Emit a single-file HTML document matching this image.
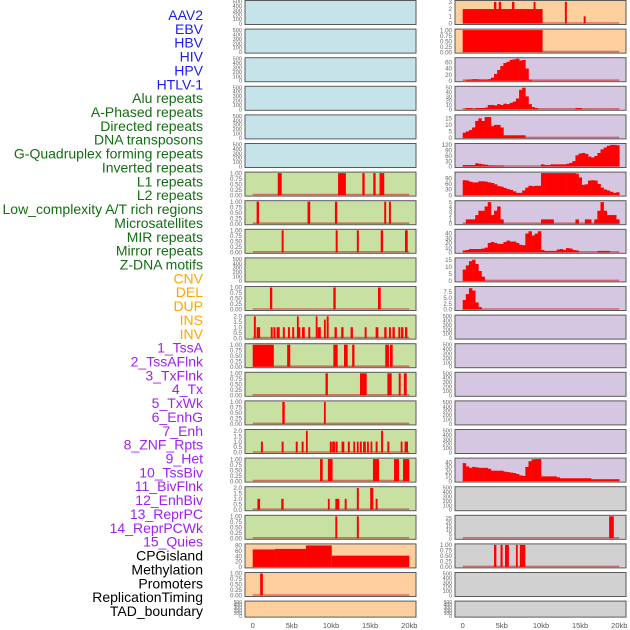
<!DOCTYPE html>
<html><head><meta charset="utf-8">
<style>
html,body{margin:0;padding:0;background:#fff;}
svg{display:block;font-family:"Liberation Sans",sans-serif;}
</style></head>
<body>
<svg id="chart" width="630" height="630" viewBox="0 0 630 630"></svg>
<script>
// ---------- data ----------
const trackLabels = ["AAV2","EBV","HBV","HIV","HPV","HTLV-1","Alu repeats","A-Phased repeats","Directed repeats","DNA transposons","G-Quadruplex forming repeats","Inverted repeats","L1 repeats","L2 repeats","Low_complexity A/T rich regions","Microsatellites","MIR repeats","Mirror repeats","Z-DNA motifs","CNV","DEL","DUP","INS","INV","1_TssA","2_TssAFlnk","3_TxFlnk","4_Tx","5_TxWk","6_EnhG","7_Enh","8_ZNF_Rpts","9_Het","10_TssBiv","11_BivFlnk","12_EnhBiv","13_ReprPC","14_ReprPCWk","15_Quies","CPGisland","Methylation","Promoters","ReplicationTiming","TAD_boundary"];
const labelColors = ["#1c1cf0","#1c1cf0","#1c1cf0","#1c1cf0","#1c1cf0","#1c1cf0","#126e12","#126e12","#126e12","#126e12","#126e12","#126e12","#126e12","#126e12","#126e12","#126e12","#126e12","#126e12","#126e12","#ffa500","#ffa500","#ffa500","#ffa500","#ffa500","#a020f0","#a020f0","#a020f0","#a020f0","#a020f0","#a020f0","#a020f0","#a020f0","#a020f0","#a020f0","#a020f0","#a020f0","#a020f0","#a020f0","#a020f0","#000","#000","#000","#000","#000"];
const xTickValues = [0,5,10,15,20];
const xTickLabels = ["0","5kb","10kb","15kb","20kb"];

// interval tracks: [startKb, endKb, value]
const aluIntervals = [[3.2,3.7,1],[10.9,11.9,1],[14.0,14.3,1],[15.4,15.7,1],[16.2,16.8,1]];
const aPhasedIntervals = [[0.5,0.8,1],[7.0,7.35,1],[10.5,10.8,1],[16.8,17.05,1],[17.4,17.65,1]];
const directedIntervals = [[3.7,3.95,1],[10.6,10.85,1],[13.3,13.55,1],[16.35,16.65,1],[19.45,19.8,1]];
const g4Intervals = [[2.2,2.5,1],[10.3,10.6,1],[16.0,16.35,1]];
const invertedIntervals = [[0.15,0.4,2],[0.5,0.95,1],[2.3,2.55,1],[2.65,2.9,1],[3.05,3.45,1],[3.85,4.1,1],[4.5,4.75,1],[5.05,5.3,1],[5.65,5.85,2],[5.85,6.05,1],[6.3,6.65,1],[7.1,7.35,1],[8.05,8.25,2],[8.3,8.7,1],[9.1,9.3,1.7],[9.45,9.7,2],[10.45,10.75,1],[11.3,11.6,1],[12.5,12.8,1],[14.3,14.55,1],[15.7,16.05,1],[16.8,17.1,1],[17.4,17.65,1],[17.85,18.15,1],[18.6,18.85,1],[18.95,19.25,1],[19.45,19.75,1]];
const l1Intervals = [[0,2.7,1],[4.4,4.8,1],[10.3,10.85,1],[11.66,12.13,1],[12.7,13.0,1],[16.93,17.4,1],[17.53,17.88,1]];
const l2Intervals = [[9.3,9.6,1],[13.7,14.56,1],[17.2,17.75,1],[18.65,18.9,1],[19.3,19.67,1]];
const lowComplexIntervals = [[3.78,4.09,1],[9.1,9.3,1]];
const microsatIntervals = [[1.05,1.3,1],[3.7,3.95,1],[5.5,5.75,1],[6.25,6.5,1],[6.8,7.0,2],[9.85,10.1,1],[10.15,10.35,1],[10.3,10.5,1],[10.6,10.85,1],[11.35,11.7,1],[12.15,12.4,1],[12.85,13.05,1],[13.3,13.5,1],[13.7,13.9,1],[14.1,14.45,1],[14.6,14.8,1],[15.05,15.25,1],[15.7,15.95,1],[16.4,16.65,2],[17.2,17.45,1],[18.9,19.1,1],[19.4,19.65,1],[19.6,19.8,1]];
const mirIntervals = [[8.6,8.94,1],[9.6,10.2,1],[15.36,16.13,1],[18.05,18.68,1],[19.2,20,1]];
const mirrorIntervals = [[0.6,0.95,1],[3.65,3.95,1],[9.6,9.8,1],[10.55,11.06,1],[11.75,12.0,1],[13.3,13.55,2],[15.0,15.4,2],[15.7,15.95,1]];
const zdnaIntervals = [[10.55,10.8,1],[13.3,13.55,1]];
const cnvIntervals = [[0,2.85,65],[2.85,6.8,67],[6.8,10.1,80],[10.1,20,42]];
const delIntervals = [[0.95,1.3,1]];
const insIntervals = [[0,10.2,2],[4.0,4.3,3],[4.6,4.9,3],[6.3,6.6,3],[9.05,9.3,3],[13.05,13.3,3],[15.45,15.7,1]];
const invIntervals = [[0,10.2,1]];
const methylationIntervals = [[18.7,19.3,28]];
const promoterIntervals = [[4.0,4.3,1],[4.83,5.1,1],[5.4,5.9,1],[6.8,7.0,1],[7.3,8.0,1]];

// binned tracks: 50 bins of 0.4kb
const tssACounts = [0,3,4,5,5,4,4,4,5,10,22,35,48,58,62,68,70,72,66,68,40,3,0,0,0,0,0,0,0,0,0,0,0,0,0,0,0,0,0,0,0,0,0,0,0,0,0,0,0,0];
const tssAFlnkCounts = [0,3,3,1,3,3,3,4,10,10,9,12,10,13,12,15,18,25,45,50,30,12,5,3,0,0,0,0,0,0,0,0,0,0,0,0,3,3,0,0,0,0,0,0,0,0,0,0,0,0];
const txFlnkCounts = [4,5,6,8,13,15,13,16,16,9,10,10,8,2,2,2,2,2,2,2,0,0,0,0,0,0,0,0,0,0,0,0,0,0,0,0,0,0,0,0,0,0,0,0,0,0,0,0,0,0];
const txCounts = [8,8,8,8,18,15,12,10,6,6,5,5,5,0,0,0,0,0,0,0,0,0,0,0,0,12,8,8,12,12,12,12,12,15,20,30,62,72,75,70,55,50,58,75,95,105,115,120,120,118];
const txWkCounts = [80,78,72,68,68,74,74,72,68,65,58,48,45,38,32,28,20,12,12,25,40,50,48,50,50,120,120,120,120,120,120,120,120,120,120,120,115,95,55,58,78,80,78,60,40,30,25,18,12,15];
const enhGCounts = [0,1,1,1,2,3,3,4,5,2,3,4,1,0,0,0,0,0,0,0,0,0,0,0,0,1,1,1,1,0,0,0,0,0,0,0,1,0,0,1,1,0,1,3,5,3,2,2,2,1];
const enhCounts = [4,5,7,7,7,7,8,10,20,22,20,18,18,22,25,23,23,20,16,15,40,45,36,40,45,5,3,3,3,3,6,7,5,9,8,5,4,0,0,0,0,0,0,3,3,3,3,0,0,0];
const znfCounts = [8,11,14,15,12,7,3,0,0,0,0,0,0,0,0,0,0,0,0,0,0,0,0,0,0,0,0,0,0,0,0,0,0,0,0,0,0,0,0,0,0,0,0,0,0,0,0,0,0,0];
const hetCounts = [4,6.5,9,8,3,1,0,0,0,0,0,0,0,0,0,0,0,0,0,0,0,0,0,0,0,0,0,0,0,0,0,0,0,0,0,0,0,0,0,0,0,0,0,0,0,0,0,0,0,0];
const quiesCounts = [38,31,28,30,29,28,28,28,26,22,22,22,22,20,19,18,17,15,12,11,30,42,46,47,47,10,10,10,10,10,8,6,6,6,6,6,6,6,6,6,6,4,4,4,4,4,4,4,4,4];

// y tick label sets
const ticksEmpty = ["0","100","200","300","400","500"];
const ticksBinary = ["0.00","0.25","0.50","0.75","1.00"];
const ticksTwo = ["0.0","0.5","1.0","1.5","2.0"];

// ---------- layout ----------
const svg = document.getElementById('chart');
const NS = 'http://www.w3.org/2000/svg';
const BG = {blue:'#c7e3ea', green:'#c8e1a3', orange:'#fdcf9d', purple:'#d5c6e2', grey:'#d1d1d1'};
const colX = [245, 455];
const panelW = 171;
const x0 = [252.7, 462.7];
const kbPx = 7.83;
function xScale(col, kb){ return x0[col] + kb*kbPx; }
function rowTop(r){ return 0.5 + 28.6*r; }
function rowH(r){ return r===21 ? 16 : 24; }

function mk(tag, attrs, parent){
  const e = document.createElementNS(NS, tag);
  for (const k in attrs) e.setAttribute(k, attrs[k]);
  (parent||svg).appendChild(e);
  return e;
}

const specs = {
  "Alu repeats":{t:'iv',d:aluIntervals,ticks:ticksBinary,max:1},
  "A-Phased repeats":{t:'iv',d:aPhasedIntervals,ticks:ticksBinary,max:1},
  "Directed repeats":{t:'iv',d:directedIntervals,ticks:ticksBinary,max:1},
  "G-Quadruplex forming repeats":{t:'iv',d:g4Intervals,ticks:ticksBinary,max:1},
  "Inverted repeats":{t:'iv',d:invertedIntervals,ticks:ticksTwo,max:2.02},
  "L1 repeats":{t:'iv',d:l1Intervals,ticks:ticksBinary,max:1},
  "L2 repeats":{t:'iv',d:l2Intervals,ticks:ticksBinary,max:1},
  "Low_complexity A/T rich regions":{t:'iv',d:lowComplexIntervals,ticks:ticksBinary,max:1},
  "Microsatellites":{t:'iv',d:microsatIntervals,ticks:ticksTwo,max:2.02},
  "MIR repeats":{t:'iv',d:mirIntervals,ticks:ticksBinary,max:1},
  "Mirror repeats":{t:'iv',d:mirrorIntervals,ticks:ticksTwo,max:2.02},
  "Z-DNA motifs":{t:'iv',d:zdnaIntervals,ticks:ticksBinary,max:1},
  "CNV":{t:'iv',d:cnvIntervals,ticks:["0","20","40","60","80"],max:82},
  "DEL":{t:'iv',d:delIntervals,ticks:ticksBinary,max:1},
  "INS":{t:'iv',d:insIntervals,ticks:["0","1","2","3"],max:3.05},
  "INV":{t:'iv',d:invIntervals,ticks:ticksBinary,max:1},
  "1_TssA":{t:'bin',d:tssACounts,ticks:["0","20","40","60"],max:72},
  "2_TssAFlnk":{t:'bin',d:tssAFlnkCounts,ticks:["0","10","20","30","40","50"],max:51},
  "3_TxFlnk":{t:'bin',d:txFlnkCounts,ticks:["0","5","10","15"],max:16.9},
  "4_Tx":{t:'bin',d:txCounts,ticks:["0","30","60","90","120"],max:122},
  "5_TxWk":{t:'bin',d:txWkCounts,ticks:["0","30","60","90"],max:118},
  "6_EnhG":{t:'bin',d:enhGCounts,ticks:["0","1","2","3","4","5"],max:5.1},
  "7_Enh":{t:'bin',d:enhCounts,ticks:["0","10","20","30","40"],max:47},
  "8_ZNF_Rpts":{t:'bin',d:znfCounts,ticks:["0","5","10","15"],max:15.6},
  "9_Het":{t:'bin',d:hetCounts,ticks:["0.0","2.5","5.0","7.5"],max:9.3},
  "15_Quies":{t:'bin',d:quiesCounts,ticks:["0","10","20","30","40"],max:46.5},
  "Methylation":{t:'iv',d:methylationIntervals,ticks:["0","5","10","15","20","25"],max:27},
  "Promoters":{t:'iv',d:promoterIntervals,ticks:ticksBinary,max:1}
};

function bgFor(col,row){
  if (col===0) return row<6?BG.blue:(row<19?BG.green:BG.orange);
  return row<2?BG.orange:(row<17?BG.purple:BG.grey);
}

trackLabels.forEach((lab,i)=>{
  const t = mk('text',{x:203,y:(20+13.86*i).toFixed(1),'text-anchor':'end','font-size':'14',fill:labelColors[i]});
  t.textContent = lab;
  
  
});

trackLabels.forEach((lab,i)=>{
  const col = i<22?0:1, row = i%22;
  const top = rowTop(row), h = rowH(row), left = colX[col];
  const g = mk('g',{});
  
  
  const rect = mk('rect',{x:left,y:top,width:panelW,height:h,fill:bgFor(col,row),stroke:'#5a5a5a','stroke-width':1},g);
  
  
  const sp = specs[lab] || {t:'empty',d:[],ticks:ticksEmpty,max:500};
  const yb = top + h - 1, yt = top + 1;
  const yS = v => yb - (Math.min(v, sp.max)/sp.max)*(yb-yt);
  const n = sp.ticks.length;
  const fs = h<20 ? 5 : (n>5 ? 5.6 : 6.2);
  sp.ticks.forEach((tk,k)=>{
    const v = sp.max===500 ? k*100 : parseFloat(tk);
    const ty = yS(v) + fs*0.35;
    const tt = mk('text',{x:left-3,y:ty.toFixed(1),'text-anchor':'end','font-size':fs,fill:'#666'},g);
    tt.textContent = tk;
    
    
  });
  if (sp.t==='empty') return;
  const bl = mk('line',{x1:xScale(col,0),x2:xScale(col,20),y1:yb-0.5,y2:yb-0.5,stroke:'rgba(200,30,30,0.55)','stroke-width':1.6},g);
  
  
  if (sp.t==='iv'){
    sp.d.forEach(iv=>{
      const xa = xScale(col,iv[0]);
      const w = Math.max(xScale(col,iv[1])-xa, 1.8);
      const r = mk('rect',{x:xa.toFixed(2),y:yS(iv[2]).toFixed(2),width:w.toFixed(2),height:(yb-yS(iv[2])).toFixed(2),fill:'#ff0000'},g);
      
      
    });
  } else {
    sp.d.forEach((v,b)=>{
      if (v<=0) return;
      const xa = xScale(col,b*0.4);
      const w = xScale(col,(b+1)*0.4)-xa + 0.3;
      const r = mk('rect',{x:xa.toFixed(2),y:yS(v).toFixed(2),width:w.toFixed(2),height:(yb-yS(v)).toFixed(2),fill:'#ff0000'},g);
      
      
    });
  }
});

[0,1].forEach(col=>{
  xTickValues.forEach((v,k)=>{
    const t = mk('text',{x:xScale(col,v).toFixed(1),y:628,'text-anchor':'middle','font-size':7.5,fill:'#555'});
    t.textContent = xTickLabels[k];
    
    
  });
});
</script>
</body></html>
